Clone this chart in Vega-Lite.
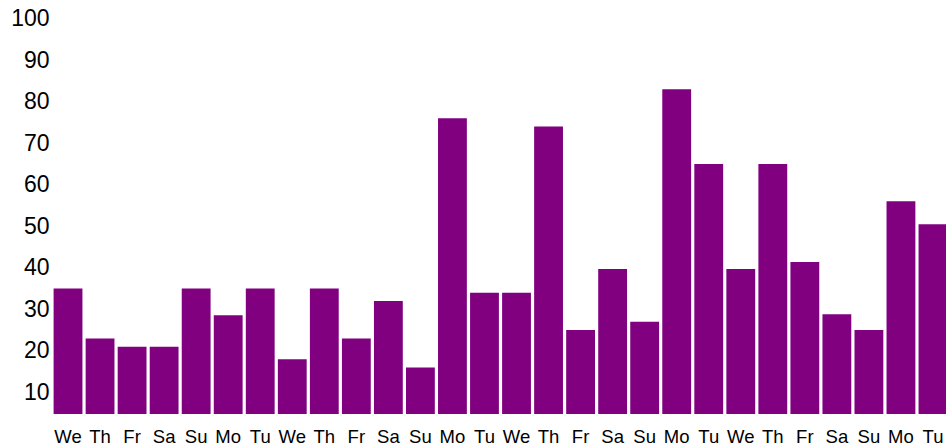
{
  "$schema": "https://vega.github.io/schema/vega-lite/v6.json",
  "autosize": "none",
  "padding": {"left": 52, "top": 18.5, "right": 0, "bottom": 32},
  "width": 894,
  "height": 395.5,
  "background": "white",
  "config": {"view": {"stroke": null}},
  "data": {"values": [
    {"i": 1, "day": "We", "value": 35},
    {"i": 2, "day": "Th", "value": 23},
    {"i": 3, "day": "Fr", "value": 21},
    {"i": 4, "day": "Sa", "value": 21},
    {"i": 5, "day": "Su", "value": 35},
    {"i": 6, "day": "Mo", "value": 28.6},
    {"i": 7, "day": "Tu", "value": 35},
    {"i": 8, "day": "We", "value": 18},
    {"i": 9, "day": "Th", "value": 35},
    {"i": 10, "day": "Fr", "value": 23},
    {"i": 11, "day": "Sa", "value": 32},
    {"i": 12, "day": "Su", "value": 16},
    {"i": 13, "day": "Mo", "value": 76},
    {"i": 14, "day": "Tu", "value": 34},
    {"i": 15, "day": "We", "value": 34},
    {"i": 16, "day": "Th", "value": 74},
    {"i": 17, "day": "Fr", "value": 25},
    {"i": 18, "day": "Sa", "value": 39.7},
    {"i": 19, "day": "Su", "value": 27},
    {"i": 20, "day": "Mo", "value": 83},
    {"i": 21, "day": "Tu", "value": 65},
    {"i": 22, "day": "We", "value": 39.7},
    {"i": 23, "day": "Th", "value": 65},
    {"i": 24, "day": "Fr", "value": 41.4},
    {"i": 25, "day": "Sa", "value": 28.8},
    {"i": 26, "day": "Su", "value": 25},
    {"i": 27, "day": "Mo", "value": 56},
    {"i": 28, "day": "Tu", "value": 50.5}
  ]},
  "mark": {"type": "bar", "color": "#800080", "clip": true},
  "encoding": {
    "x": {
      "field": "i",
      "type": "ordinal",
      "scale": {"range": [0, 897], "paddingInner": 0.1, "paddingOuter": 0.05},
      "axis": {
        "title": null,
        "domain": false,
        "ticks": false,
        "labelAngle": 0,
        "labelPadding": 13,
        "labelFont": "Liberation Sans",
        "labelFontSize": 18.5,
        "labelColor": "#000000",
        "labelExpr": "['We','Th','Fr','Sa','Su','Mo','Tu','We','Th','Fr','Sa','Su','Mo','Tu','We','Th','Fr','Sa','Su','Mo','Tu','We','Th','Fr','Sa','Su','Mo','Tu'][datum.value-1]"
      }
    },
    "y": {
      "field": "value",
      "type": "quantitative",
      "scale": {"domain": [4.8, 100], "zero": false, "nice": false},
      "axis": {
        "title": null,
        "domain": false,
        "ticks": false,
        "grid": false,
        "values": [10, 20, 30, 40, 50, 60, 70, 80, 90, 100],
        "labelPadding": 3,
        "labelFont": "Liberation Sans",
        "labelFontSize": 23,
        "labelColor": "#000000"
      }
    }
  }
}
